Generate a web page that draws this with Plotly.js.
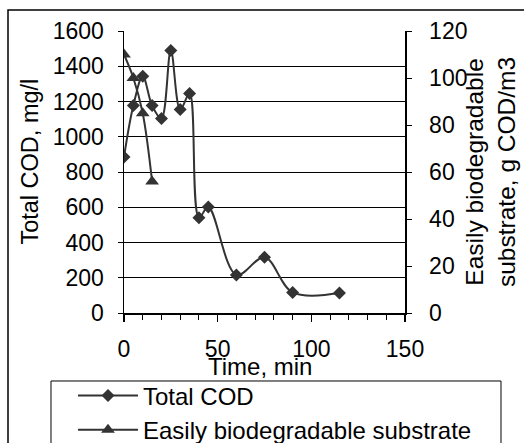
<!DOCTYPE html>
<html>
<head>
<meta charset="utf-8">
<script src="https://cdn.plot.ly/plotly-3.0.1.min.js"></script>
<style>
html,body{margin:0;padding:0;background:#fff;}
#chart{width:524px;height:443px;}
</style>
</head>
<body>
<div id="chart"></div>
<script>
// Data
var timeCOD = [0, 5, 10, 15, 20, 25, 30, 35, 40, 45, 60, 75, 90, 115];
var totalCOD = [885, 1177, 1343, 1177, 1103, 1490, 1154, 1245, 541, 601, 216, 316, 117, 113];
var timeSub = [0, 5, 10, 15];
var easilySub = [110, 100, 85, 56];
var xTickVals = [0, 50, 100, 150];
var seriesNames = ['Total COD', 'Easily biodegradable substrate'];
var xTitle = 'Time, min';
var yTitle = 'Total COD, mg/l';
var y2Title = 'Easily biodegradable<br>substrate, g COD/m3';

var FONT = 'Liberation Sans, Arial, sans-serif';
var DARK = '#333333';

var traces = [
  {
    x: timeCOD, y: totalCOD, name: seriesNames[0], type: 'scatter', mode: 'lines+markers',
    line: {color: DARK, width: 2, shape: 'spline', smoothing: 1},
    marker: {symbol: 'diamond', size: 10, color: DARK},
    xaxis: 'x', yaxis: 'y'
  },
  {
    x: timeSub, y: easilySub, name: seriesNames[1], type: 'scatter', mode: 'lines+markers',
    line: {color: DARK, width: 2, shape: 'spline', smoothing: 1},
    marker: {symbol: 'triangle-up', size: 12, color: DARK},
    xaxis: 'x', yaxis: 'y2'
  }
];

var tickFont = {family: FONT, size: 23, color: '#000'};
var titleFont = {family: FONT, size: 24, color: '#000'};

var layout = {
  width: 524, height: 443,
  margin: {l: 124, r: 119, t: 31, b: 130, pad: 0, autoexpand: false},
  paper_bgcolor: '#fff', plot_bgcolor: 'rgba(0,0,0,0)',
  showlegend: true,
  xaxis: {
    range: [0, 150], tickvals: xTickVals, ticktext: xTickVals.map(String),
    ticks: 'outside', ticklen: 7, tickwidth: 1.5, tickcolor: '#000',
    minor: {dtick: 10, tick0: 0, ticks: 'outside', ticklen: 5, tickwidth: 1, tickcolor: '#000', showgrid: false},
    showline: true, linecolor: '#000', linewidth: 1.5, showgrid: false, zeroline: false,
    tickfont: tickFont, ticklabelstandoff: 8, automargin: false
  },
  xaxis2: {
    range: [0, 150], overlaying: 'x', anchor: 'y', tickvals: xTickVals,
    ticks: 'inside', ticklen: 7, tickwidth: 1.5, tickcolor: '#000',
    minor: {dtick: 10, tick0: 0, ticks: 'inside', ticklen: 5, tickwidth: 1, tickcolor: '#000', showgrid: false},
    showticklabels: false, showline: false, showgrid: false, zeroline: false, automargin: false
  },
  yaxis: {
    range: [0, 1600], dtick: 200, tick0: 0,
    ticks: 'outside', ticklen: 5, tickwidth: 1, tickcolor: '#000',
    showline: true, linecolor: '#000', linewidth: 1.5,
    showgrid: true, gridcolor: '#000', gridwidth: 1, zeroline: false,
    tickfont: tickFont, ticklabelstandoff: 9, automargin: false
  },
  yaxis3: {
    range: [0, 1600], dtick: 200, tick0: 0, overlaying: 'y', side: 'left', anchor: 'x',
    ticks: 'inside', ticklen: 5, tickwidth: 1, tickcolor: '#000',
    showticklabels: false, showline: false, showgrid: false, zeroline: false, automargin: false
  },
  yaxis2: {
    range: [0, 120], dtick: 20, tick0: 0, overlaying: 'y', side: 'right', anchor: 'x',
    ticks: 'outside', ticklen: 5, tickwidth: 1, tickcolor: '#000',
    showline: true, linecolor: '#000', linewidth: 1.5, showgrid: false, zeroline: false,
    tickfont: tickFont, ticklabelstandoff: 13, automargin: false
  },
  yaxis4: {
    range: [0, 120], dtick: 20, tick0: 0, overlaying: 'y', side: 'right', anchor: 'x',
    ticks: 'inside', ticklen: 5, tickwidth: 1, tickcolor: '#000',
    showticklabels: false, showline: false, showgrid: false, zeroline: false, automargin: false
  },
  legend: {
    x: -0.1815, xanchor: 'left', y: -0.2145, yanchor: 'top',
    bgcolor: 'rgba(0,0,0,0)', borderwidth: 0,
    font: {family: FONT, size: 24, color: '#000'},
    itemwidth: 60, tracegroupgap: 0
  },
  annotations: [
    {text: xTitle, xref: 'paper', yref: 'paper', x: 0.484, y: -0.19,
     xanchor: 'center', yanchor: 'middle', showarrow: false, font: titleFont},
    {text: yTitle, xref: 'paper', yref: 'paper', x: -0.3345, y: 0.537, textangle: -90,
     xanchor: 'center', yanchor: 'middle', showarrow: false, font: {family: FONT, size: 23.5, color: '#000'}},
    {text: y2Title, xref: 'paper', yref: 'paper', x: 1.3025, y: 0.5, textangle: -90,
     xanchor: 'center', yanchor: 'middle', showarrow: false, font: {family: FONT, size: 24.5, color: '#000'}}
  ],
  shapes: [
    {type: 'rect', xref: 'paper', yref: 'paper', x0: -0.4128, x1: 1.445, y0: -0.486, y1: 1.0745,
     line: {color: '#000', width: 1.5}, fillcolor: 'rgba(0,0,0,0)', layer: 'below'},
    {type: 'rect', xref: 'paper', yref: 'paper', x0: -0.2598, x1: 1.3416, y0: -0.521, y1: -0.2411,
     line: {color: '#000', width: 1}, fillcolor: 'rgba(0,0,0,0)', layer: 'below'}
  ]
};

Plotly.newPlot('chart', traces, layout, {staticPlot: true, displayModeBar: false});
</script>
</body>
</html>
